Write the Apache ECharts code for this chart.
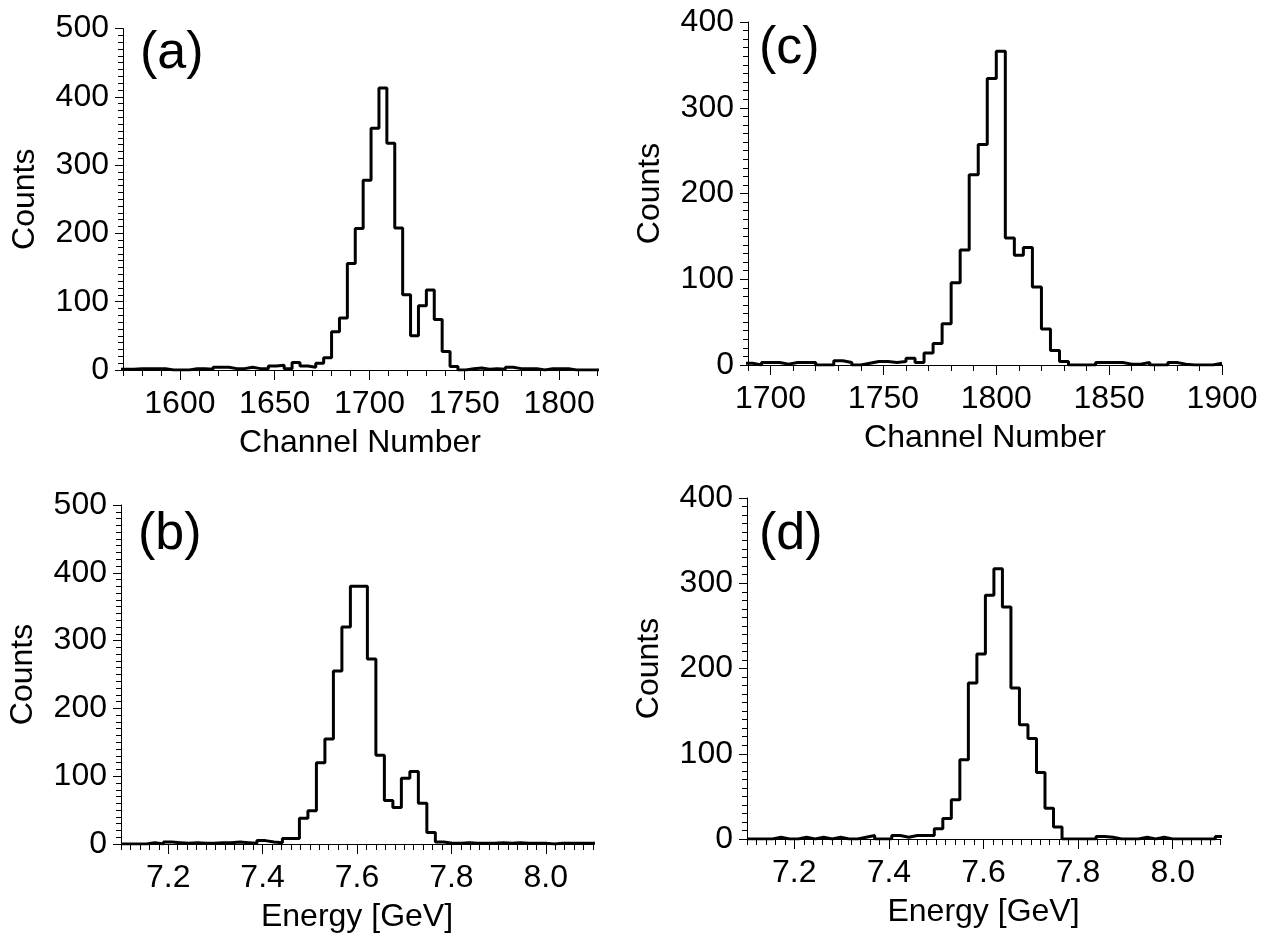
<!DOCTYPE html>
<html>
<head>
<meta charset="utf-8">
<script src="https://cdn.jsdelivr.net/npm/echarts@6/dist/echarts.min.js"></script>
<style>
  html, body { margin: 0; padding: 0; background: #fff; }
  #chart { width: 1273px; height: 939px; }
</style>
</head>
<body>
<div id="chart"></div>
<script>
// (a) channel spectrum, bins of ~4.17 channels
const aBinStart = 1567.5;
const aBinWidth = 250 / 60;
const aCounts = [1, 1, 2, 2, 2, 2, 0, 0, 0, 2, 2, 1, 4, 4, 2, 2, 4, 2, 2, 6,
  7, 2, 11, 6, 4, 10, 18, 56, 76, 156, 207, 278, 354, 413, 332, 208, 110, 50, 94, 117,
  74, 27, 5, 0, 2, 3, 1, 2, 1, 4, 2, 2, 2, 0, 2, 2, 2, 0, 0, 0, 0];

// (c) channel spectrum, bins of 4 channels
const cBinStart = 1688;
const cBinWidth = 4;
const cCounts = [2, 0, 3, 3, 1, 3, 3, 3, 0, 0, 5, 3, 0, 2, 4, 4, 3, 4, 8, 3,
  14, 25, 48, 96, 134, 222, 257, 334, 366, 148, 128, 137, 91, 42, 17, 4, 0, 0, 0, 3,
  3, 3, 1, 1, 3, 0, 0, 3, 1, 0, 0, 0, 2];

// (b) and (d) energy spectra, bins of 0.018 GeV
const eBinStart = 7.1;
const eBinWidth = 0.018;
const bCounts = [0, 0, 0, 2, 0, 3, 2, 1, 2, 1, 1, 2, 2, 3, 2, 1, 5, 3, 2, 8,
  8, 38, 49, 120, 155, 255, 320, 380, 380, 273, 131, 64, 54, 97, 107, 60, 17, 3, 1, 1,
  2, 1, 1, 1, 2, 1, 2, 1, 1, 1, 0, 1, 1, 1, 1, 1];
const dCounts = [0, 0, 0, 2, 0, 0, 2, 0, 2, 0, 2, 0, 0, 2, 4, 0, 0, 4, 2, 4,
  4, 4, 12, 24, 46, 93, 183, 217, 286, 317, 272, 177, 134, 118, 78, 36, 14, 0, 0, 0,
  0, 3, 2, 0, 0, 0, 2, 0, 2, 0, 0, 0, 0, 0, 0, 3];

const channelTicksA = [1600, 1650, 1700, 1750, 1800];
const channelTicksC = [1700, 1750, 1800, 1850, 1900];
const energyTicks = [7.2, 7.4, 7.6, 7.8, 8.0];
const panelLabels = ['(a)', '(b)', '(c)', '(d)'];

const FONT = "'Liberation Sans', Arial, sans-serif";

function histPoints(start, width, counts) {
  const pts = counts.map((v, i) => [start + i * width, v]);
  pts.push([start + counts.length * width, counts[counts.length - 1]]);
  return pts;
}

const grids = [
  { left: 123, top: 28.5, width: 474, height: 341.5 },
  { left: 121, top: 505, width: 472, height: 339 },
  { left: 748, top: 22, width: 474, height: 343 },
  { left: 747, top: 498, width: 473, height: 341 }
];

const panels = [
  { min: 1570, max: 1820, minor: 10, ticks: channelTicksA, ymax: 500, name: 'Channel Number',
    fmt: v => String(v), data: histPoints(aBinStart, aBinWidth, aCounts) },
  { min: 7.1, max: 8.1, minor: 0.02, ticks: energyTicks, ymax: 500, name: 'Energy [GeV]',
    fmt: v => v.toFixed(1), data: histPoints(eBinStart, eBinWidth, bCounts) },
  { min: 1690, max: 1900, minor: 10, ticks: channelTicksC, ymax: 400, name: 'Channel Number',
    fmt: v => String(v), data: histPoints(cBinStart, cBinWidth, cCounts) },
  { min: 7.1, max: 8.1, minor: 0.02, ticks: energyTicks, ymax: 400, name: 'Energy [GeV]',
    fmt: v => v.toFixed(1), data: histPoints(eBinStart, eBinWidth, dCounts) }
];

const labelPos = [[140, 57], [138, 538], [759, 52], [759, 538]];

const xAxis = [];
const yAxis = [];
const series = [];
panels.forEach((p, i) => {
  xAxis.push({
    type: 'value', gridIndex: i, min: p.min, max: p.max, position: 'bottom',
    name: p.name, nameLocation: 'middle', nameGap: 57,
    nameTextStyle: { color: '#000', fontSize: 32, fontFamily: FONT },
    axisLine: { show: true, onZero: false, lineStyle: { color: '#000', width: 1 } },
    axisTick: { show: true, length: 10, customValues: p.ticks, lineStyle: { color: '#000' } },
    axisLabel: { customValues: p.ticks, margin: 18, color: '#000', fontSize: 32, fontFamily: FONT, formatter: p.fmt },
    splitLine: { show: false }
  });
  xAxis.push({
    type: 'value', gridIndex: i, min: p.min, max: p.max, interval: p.minor, position: 'bottom',
    axisLine: { show: false },
    axisTick: { show: true, length: 6, lineStyle: { color: '#000' } },
    axisLabel: { show: false },
    splitLine: { show: false }
  });
  yAxis.push({
    type: 'value', gridIndex: i, min: 0, max: p.ymax, interval: 100,
    name: 'Counts', nameLocation: 'middle', nameGap: 82, nameRotate: 90,
    nameTextStyle: { color: '#000', fontSize: 32, fontFamily: FONT },
    axisLine: { show: true, lineStyle: { color: '#000', width: 1 } },
    axisTick: { show: true, length: 8, lineStyle: { color: '#000' } },
    minorTick: { show: true, splitNumber: 10, length: 5, lineStyle: { color: '#000' } },
    axisLabel: { margin: 14, color: '#000', fontSize: 32, fontFamily: FONT },
    splitLine: { show: false }
  });
  series.push({
    type: 'line', step: 'end', xAxisIndex: i * 2, yAxisIndex: i,
    data: p.data, symbol: 'none', clip: true,
    lineStyle: { color: '#000', width: 3 }
  });
});

const chart = echarts.init(document.getElementById('chart'));
chart.setOption({
  animation: false,
  backgroundColor: '#fff',
  grid: grids,
  xAxis: xAxis,
  yAxis: yAxis,
  series: series,
  graphic: panelLabels.map((t, i) => ({
    type: 'text', left: labelPos[i][0], top: labelPos[i][1] - 29,
    style: { text: t, fontSize: 52, fontFamily: FONT, fill: '#000' }
  }))
});
</script>
</body>
</html>
